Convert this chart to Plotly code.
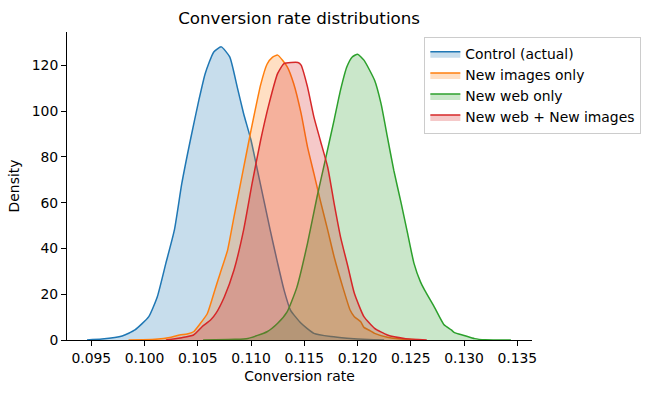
import plotly.graph_objects as go

# ---- data (KDE curves) ----
control_x = [0.0946, 0.0960, 0.0979, 0.0991, 0.1004, 0.1012, 0.1020, 0.1028, 0.1035, 0.1043,
             0.1051, 0.1057, 0.1065, 0.1072, 0.1080, 0.1087, 0.1093, 0.1100, 0.1106, 0.1112,
             0.1118, 0.1125, 0.1131, 0.1137, 0.1147, 0.1159, 0.1175, 0.1190, 0.1210, 0.1225]
control_y = [0, 0.4, 1.75, 4.4, 10.2, 18.9, 33.5, 48, 68.4, 87.3,
             104.8, 116.5, 125.9, 128.1, 123.7, 110.6, 99, 87.3, 74.2, 61.1,
             48, 33.5, 21.8, 13.1, 7.3, 2.9, 1.5, 0.8, 0.2, 0]

images_x = [0.0985, 0.1010, 0.1025, 0.1033, 0.1040, 0.1046, 0.1052, 0.1059, 0.1067, 0.1071,
            0.1078, 0.1084, 0.1092, 0.1100, 0.1109, 0.1115, 0.1120, 0.1125, 0.1134, 0.1140,
            0.1147, 0.1153, 0.1159, 0.1165, 0.1172, 0.1178, 0.1187, 0.1193, 0.1197, 0.1203,
            0.1206, 0.1212, 0.1216, 0.1228, 0.1240, 0.1258]
images_y = [0, 0.3, 1.2, 2.2, 2.6, 3.6, 7, 11.6, 23.3, 29.1,
            39.3, 53.8, 72.8, 91.7, 111.5, 120.5, 123.5, 124.5, 119.4, 112.1,
            99, 84.4, 72.8, 61, 48, 36.4, 21.8, 13.1, 10.2, 8,
            5.5, 4.0, 2.9, 1.2, 0.4, 0]

web_x = [0.1055, 0.1085, 0.1097, 0.1115, 0.1125, 0.1134, 0.1143, 0.1153, 0.1162, 0.1169,
         0.1178, 0.1184, 0.1190, 0.1195, 0.1200, 0.1206, 0.1216, 0.1222, 0.1228, 0.1234,
         0.1241, 0.1247, 0.1253, 0.1259, 0.1263, 0.1272, 0.1281, 0.1288, 0.1291, 0.1300,
         0.1310, 0.1320, 0.1344]
web_y = [0, 0.3, 0.7, 3.6, 7.3, 12.4, 23, 42.2, 62.6, 77.2,
         96.1, 109.2, 119.4, 123.7, 124.9, 122.3, 113.5, 103.4, 88.8, 74.2,
         59.7, 46.6, 33.5, 25.5, 21.8, 14.5, 6.8, 4.4, 3.2, 2.0,
         0.6, 0.1, 0]

both_x = [0.1020, 0.1035, 0.1046, 0.1054, 0.1062, 0.1067, 0.1075, 0.1084, 0.1093, 0.1101,
          0.1109, 0.1117, 0.1125, 0.1131, 0.1144, 0.1147, 0.1153, 0.1159, 0.1165, 0.1172,
          0.1178, 0.1184, 0.1191, 0.1197, 0.1206, 0.1216, 0.1228, 0.1244, 0.1265]
both_y = [0, 1.0, 2.2, 5.8, 8.7, 11.6, 18.9, 30.6, 48, 68.4,
          87.3, 103.4, 116.5, 120.8, 121.3, 120.1, 110.6, 97.5, 87.3, 75.5,
          59.7, 45.1, 32, 20.4, 10.2, 5.1, 2.2, 0.7, 0]

series = [
    ("Control (actual)", control_x, control_y, (31, 119, 180)),
    ("New images only", images_x, images_y, (255, 127, 14)),
    ("New web only", web_x, web_y, (44, 160, 44)),
    ("New web + New images", both_x, both_y, (214, 39, 40)),
]

x_ticks = [0.095, 0.100, 0.105, 0.110, 0.115, 0.120, 0.125, 0.130, 0.135]
y_ticks = [0, 20, 40, 60, 80, 100, 120]

fig = go.Figure()
for name, xs, ys, (r, g, b) in series:
    fig.add_trace(go.Scatter(
        x=xs, y=ys, name=name, mode="lines",
        line=dict(color=f"rgb({r},{g},{b})", width=1.5, shape="spline", smoothing=0.5),
        fill="tozeroy", fillcolor=f"rgba({r},{g},{b},0.25)",
    ))

font = "DejaVu Sans"
L, R, T, B = 66.5, 531.7, 31.7, 340
fig.update_layout(
    width=650, height=393,
    margin=dict(l=L, r=650 - R, t=T, b=393 - B, autoexpand=False),
    paper_bgcolor="white", plot_bgcolor="white",
    font=dict(family=font, size=13.9, color="black"),
    title=dict(text="Conversion rate distributions", x=(L + R) / 2 / 650, xanchor="center",
               y=1 - 18 / 393, yanchor="middle", font=dict(size=16.7)),
    showlegend=True,
    legend=dict(x=(424 - L) / (R - L), y=(B - 37) / (B - T), xanchor="left", yanchor="top",
                bgcolor="rgba(255,255,255,0.8)", bordercolor="#cccccc", borderwidth=1,
                font=dict(size=13.9), tracegroupgap=0, itemwidth=30),
)
fig.update_xaxes(range=[0.09272, 0.13638], tickvals=x_ticks, tickformat=".3f", automargin=False,
                 showgrid=False, zeroline=False, showline=True, linecolor="black", linewidth=1,
                 ticks="outside", ticklen=5, tickcolor="black",
                 title=dict(text="Conversion rate", font=dict(size=13.9), standoff=6))
fig.update_yaxes(range=[0, 134.6], tickvals=y_ticks, automargin=False,
                 showgrid=False, zeroline=False, showline=True, linecolor="black", linewidth=1,
                 ticks="outside", ticklen=5, tickcolor="black",
                 title=dict(text="Density", font=dict(size=13.9), standoff=8))

fig.write_html("out.html", config={"displayModeBar": False},
               post_script="document.body.style.margin='0';document.body.style.padding='0';")
